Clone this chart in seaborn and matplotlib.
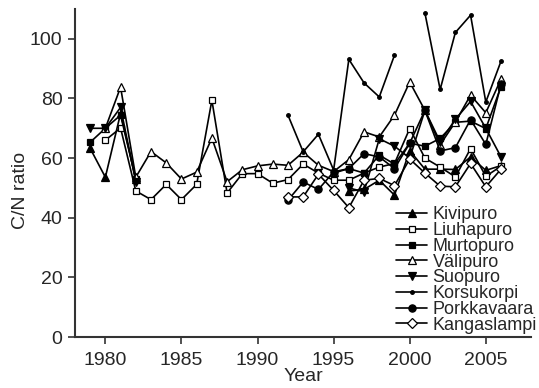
import numpy as np
import pandas as pd
import matplotlib
matplotlib.use("Agg")
import matplotlib.pyplot as plt
import seaborn as sns

years = list(range(1979, 2007))
N = None

kivipuro = [63.3, 53.6, 75.0, 53.0, N, N, N, N, N, N, N, N, N, N,
            62.1, N, N, 49.0, 49.5, 52.6, 47.6, 62.5, 56.3, 56.3, 56.2, 60.4, 55.9, 57.5]
liuhapuro = [N, 66.0, 70.1, 49.0, 46.1, 51.2, 46.1, 51.2, 79.4, 48.3, 54.8, 54.8, 51.6, 52.8,
             58.0, 55.0, 52.6, 52.6, 55.0, 57.0, 58.2, 69.9, 60.0, 57.0, 53.7, 63.2, 53.9, 57.3]
murtopuro = [65.3, 70.0, 74.4, 53.0, N, N, N, N, N, N, N, N, N, N,
             N, N, 55.0, 56.5, 55.0, 61.0, 58.0, 65.0, 64.0, 66.6, 72.0, 72.4, 69.9, 84.0]
valipuro = [N, 70.0, 83.8, 53.6, 62.2, 58.4, 53.0, 55.3, 66.7, 52.1, 56.1, 57.4, 58.0, 57.6,
            62.0, 57.6, 55.5, 59.5, 68.8, 67.1, 74.4, 85.5, 76.0, 64.5, 72.1, 81.1, 75.2, 86.5]
suopuro = [70.0, 70.0, 77.0, 52.0, N, N, N, N, N, N, N, N, N, N,
           N, N, N, 50.0, 48.7, 66.5, 64.0, 60.0, 76.0, 65.5, 73.0, 79.0, 70.0, 60.4]
korsukorpi = [N] * 13 + [74.4, 62.1, 68.0, 56.0, 93.1, 85.2, 80.5, 94.5, N,
                         108.6, 83.0, 102.1, 107.9, 78.8, 92.5]
porkkavaara = [N] * 13 + [45.9, 52.0, 49.5, 55.4, 56.5, 61.5, 60.4, 56.5, 65.0,
                          76.0, 62.4, 63.5, 72.9, 64.6, 84.8]
kangaslampi = [N] * 13 + [47.0, 47.0, 54.6, 49.2, 43.4, 52.6, 53.2, 50.8, 59.7,
                          55.0, 50.6, 50.4, 58.2, 50.4, 56.3]

# name -> (values, marker, face colour, marker size)
series = {
    "Kivipuro": (kivipuro, "^", "black", 5.5),
    "Liuhapuro": (liuhapuro, "s", "white", 4.8),
    "Murtopuro": (murtopuro, "s", "black", 4.8),
    "Välipuro": (valipuro, "^", "white", 6.0),
    "Suopuro": (suopuro, "v", "black", 6.0),
    "Korsukorpi": (korsukorpi, "o", "black", 2.6),
    "Porkkavaara": (porkkavaara, "o", "black", 5.2),
    "Kangaslampi": (kangaslampi, "D", "white", 5.0),
}

sns.set_theme(style="ticks")
plt.rcParams["font.family"] = ["Liberation Sans", "DejaVu Sans"]

fig = plt.figure(figsize=(5.39, 3.88), dpi=100)
ax = fig.add_axes([0.139, 0.131, 0.847, 0.846])


def segments(vals):
    """Split a series at missing years so the line breaks there."""
    seg, out = [], []
    for yr, v in zip(years, vals):
        if v is None:
            if seg:
                out.append(seg)
            seg = []
        else:
            seg.append((yr, v))
    if seg:
        out.append(seg)
    return out


for name, (vals, mk, fc, ms) in series.items():
    for i, seg in enumerate(segments(vals)):
        df = pd.DataFrame(seg, columns=["Year", "CN"])
        sns.lineplot(data=df, x="Year", y="CN", ax=ax, color="black", lw=1.2,
                     marker=mk, markersize=ms, markerfacecolor=fc,
                     markeredgecolor="black", markeredgewidth=0.9,
                     label=name if i == 0 else None, estimator=None, sort=False)

ax.set_xlim(1978, 2008)
ax.set_ylim(0, 110)
ax.set_xticks([1980, 1985, 1990, 1995, 2000, 2005])
ax.set_yticks([0, 20, 40, 60, 80, 100])
ax.set_xlabel("Year", fontsize=14)
ax.set_ylabel("C/N ratio", fontsize=14)
ax.xaxis.set_label_coords(0.5, -0.093)
ax.yaxis.set_label_coords(-0.10, 0.448)
ax.tick_params(axis="both", labelsize=14, direction="out", length=5, width=1.2,
               color="#333333")
ax.tick_params(axis="x", pad=6)
ax.tick_params(axis="y", pad=4)
for s in ("top", "right"):
    ax.spines[s].set_visible(False)
for s in ("left", "bottom"):
    ax.spines[s].set_linewidth(1.5)
    ax.spines[s].set_color("#333333")

handles, labels = ax.get_legend_handles_labels()
ax.legend(handles, labels, loc="lower right", bbox_to_anchor=(1.02, 0.0),
          frameon=False, fontsize=13, handlelength=1.7, handletextpad=0.3,
          labelspacing=-0.07, borderaxespad=0.1, borderpad=0.1)

fig.savefig("out.png", dpi=100)
